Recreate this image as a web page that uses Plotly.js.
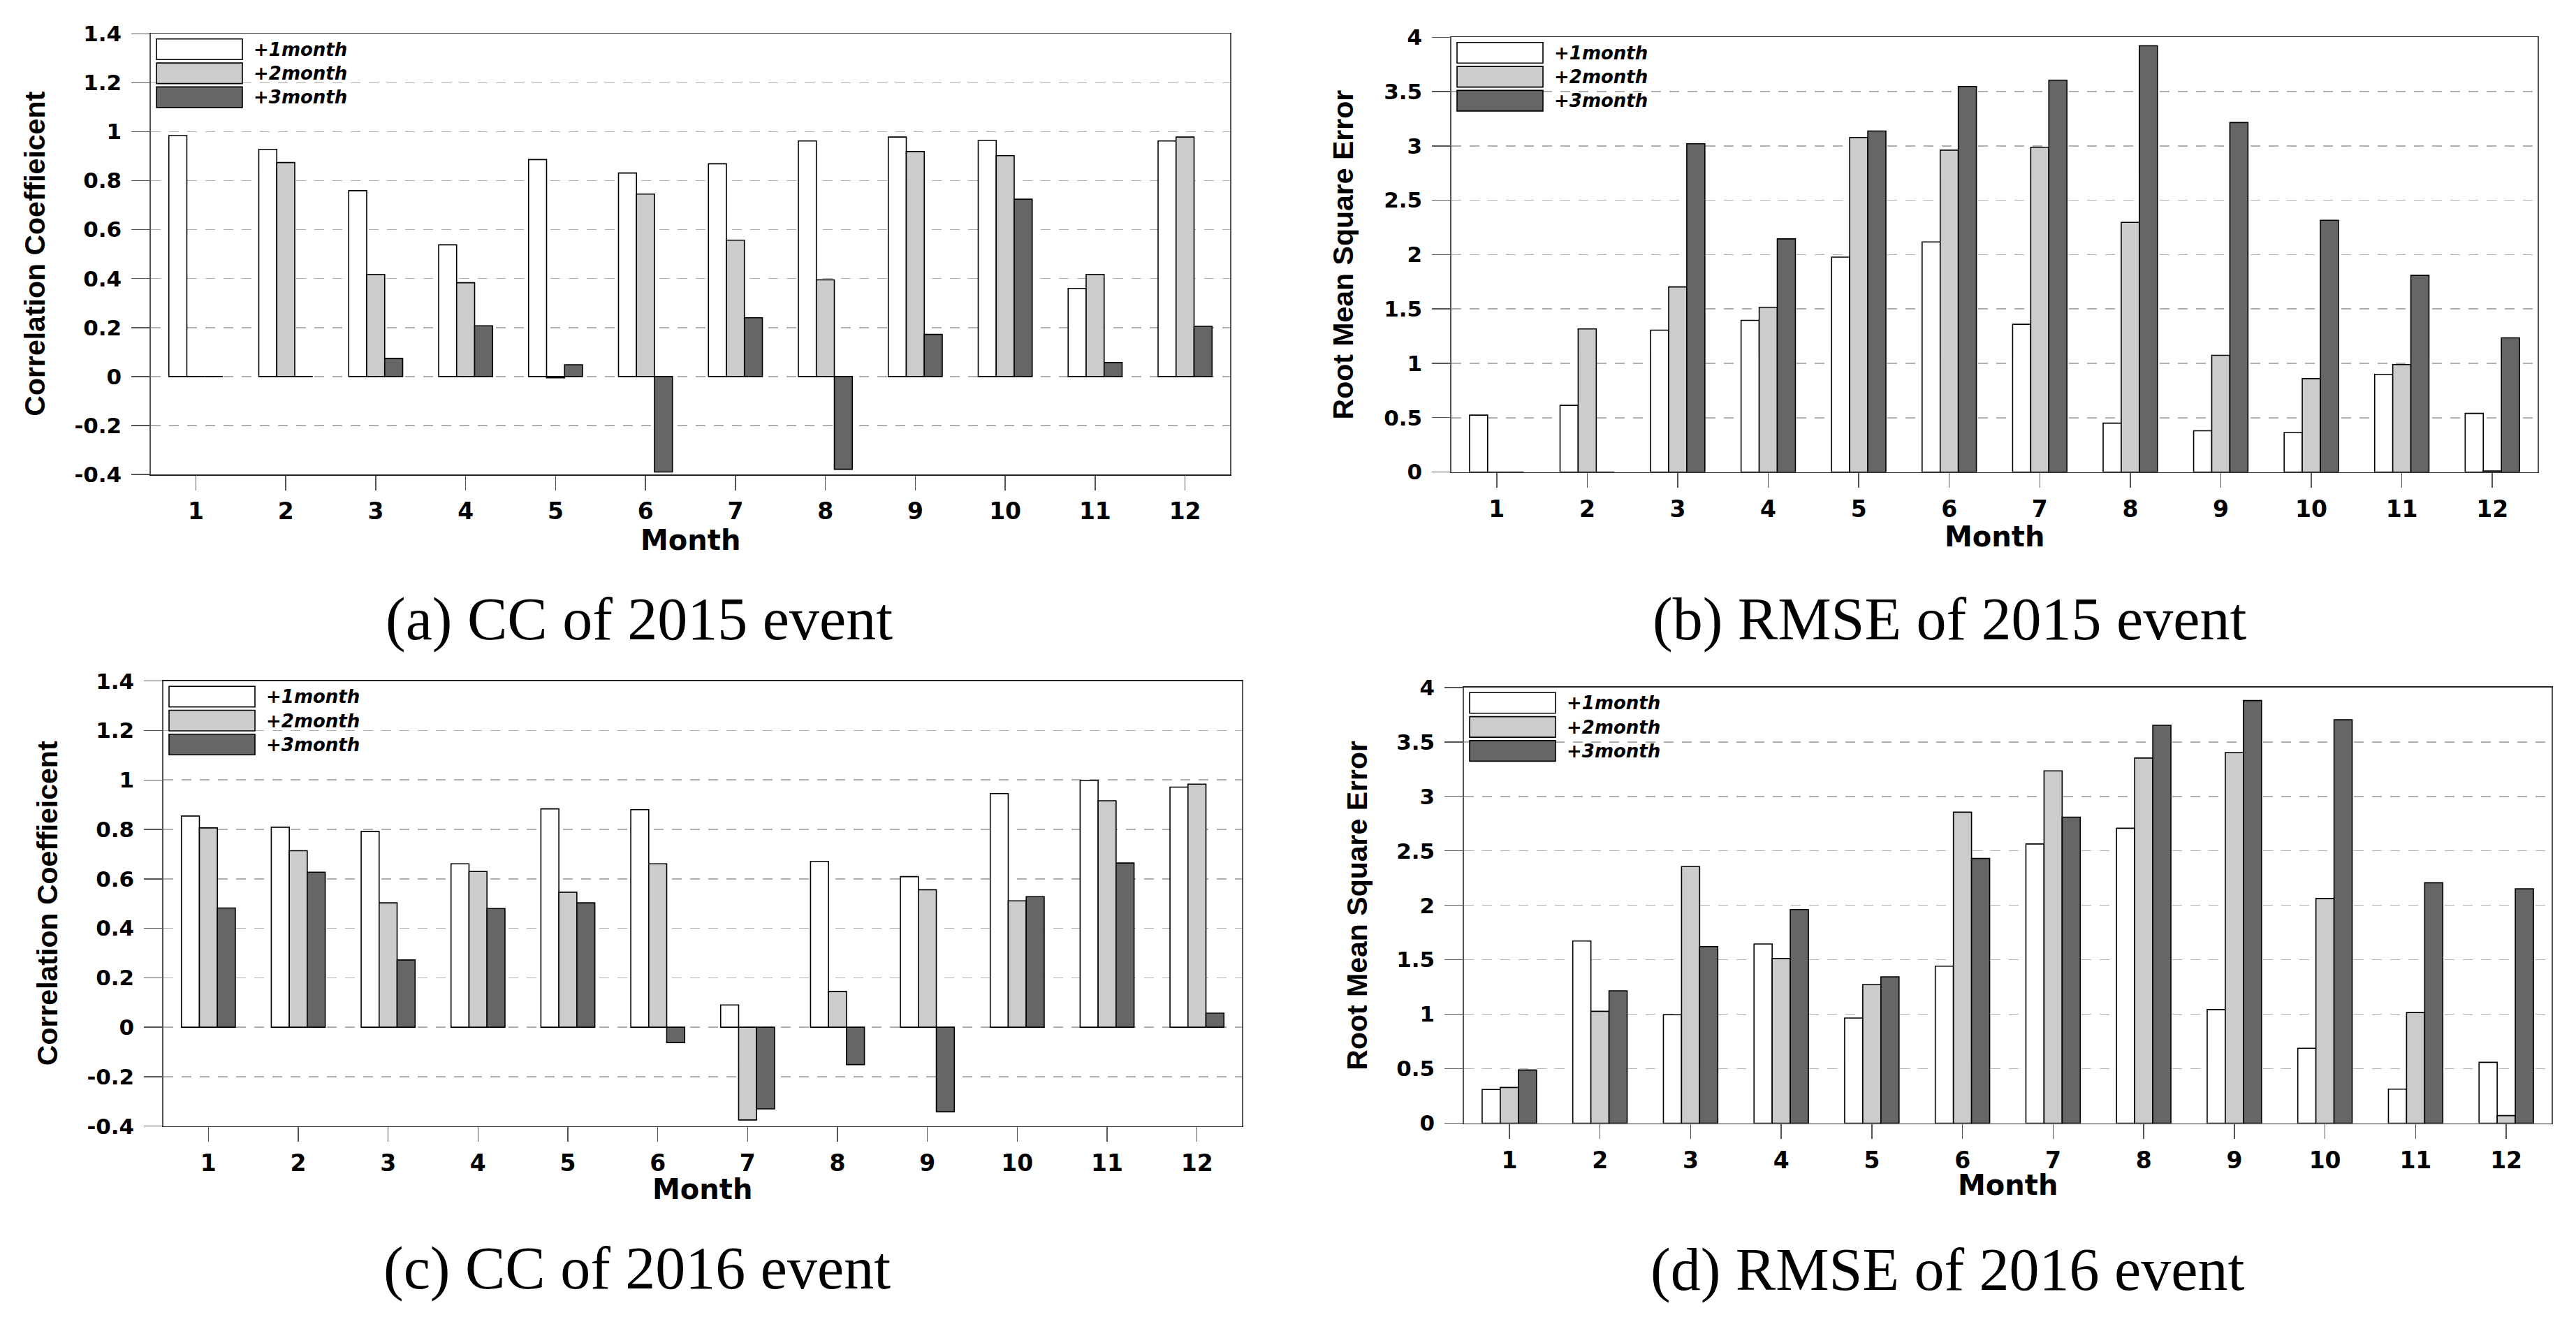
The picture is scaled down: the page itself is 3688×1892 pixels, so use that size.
<!DOCTYPE html>
<html>
<head>
<meta charset="utf-8">
<script src="https://cdn.plot.ly/plotly-3.0.1.min.js"></script>
<style>html,body{margin:0;padding:0;background:#ffffff;}</style>
</head>
<body>
<div id="chart" style="width:3688px;height:1892px;"></div>
<script>
// ---------------- DATA ----------------
const months = [1, 2, 3, 4, 5, 6, 7, 8, 9, 10, 11, 12];
const monthLabels = ['1', '2', '3', '4', '5', '6', '7', '8', '9', '10', '11', '12'];
const seriesNames = ['+1month', '+2month', '+3month'];

// (a) CC of 2015 event
const cc2015_m1 = [0.984, 0.928, 0.759, 0.538, 0.886, 0.831, 0.869, 0.962, 0.978, 0.964, 0.360, 0.962];
const cc2015_m2 = [0.000, 0.874, 0.417, 0.383, -0.005, 0.745, 0.557, 0.395, 0.919, 0.902, 0.417, 0.978];
const cc2015_m3 = [0.000, 0.000, 0.074, 0.207, 0.048, -0.390, 0.240, -0.379, 0.172, 0.724, 0.057, 0.205];

// (b) RMSE of 2015 event
const rmse2015_m1 = [0.523, 0.613, 1.305, 1.395, 1.977, 2.117, 1.359, 0.449, 0.379, 0.363, 0.898, 0.539];
const rmse2015_m2 = [0.000, 1.316, 1.703, 1.516, 3.078, 2.961, 2.988, 2.297, 1.074, 0.859, 0.988, 0.010];
const rmse2015_m3 = [0.000, 0.000, 3.020, 2.145, 3.137, 3.547, 3.605, 3.922, 3.215, 2.316, 1.809, 1.234];

// (c) CC of 2016 event
const cc2016_m1 = [0.854, 0.809, 0.792, 0.661, 0.883, 0.880, 0.090, 0.671, 0.609, 0.945, 0.998, 0.971];
const cc2016_m2 = [0.806, 0.714, 0.503, 0.630, 0.546, 0.661, -0.375, 0.145, 0.556, 0.511, 0.916, 0.983];
const cc2016_m3 = [0.482, 0.627, 0.272, 0.480, 0.503, -0.062, -0.330, -0.151, -0.342, 0.528, 0.664, 0.057];

// (d) RMSE of 2016 event
const rmse2016_m1 = [0.309, 1.672, 0.996, 1.645, 0.965, 1.441, 2.563, 2.707, 1.043, 0.688, 0.313, 0.559];
const rmse2016_m2 = [0.328, 1.027, 2.355, 1.512, 1.273, 2.855, 3.234, 3.352, 3.402, 2.063, 1.016, 0.070];
const rmse2016_m3 = [0.488, 1.215, 1.621, 1.961, 1.344, 2.430, 2.809, 3.652, 3.879, 3.703, 2.207, 2.152];

// tick labels
const ccTickVals = [-0.4, -0.2, 0, 0.2, 0.4, 0.6, 0.8, 1, 1.2, 1.4];
const ccTickText = ['-0.4', '-0.2', '0', '0.2', '0.4', '0.6', '0.8', '1', '1.2', '1.4'];
const rmseTickVals = [0, 0.5, 1, 1.5, 2, 2.5, 3, 3.5, 4];
const rmseTickText = ['0', '0.5', '1', '1.5', '2', '2.5', '3', '3.5', '4'];

// texts
const ccTitle = 'Correlation Coeffieicent';
const rmseTitle = 'Root Mean Square Error';
const xTitle = 'Month';
const captions = ['(a) CC of 2015 event', '(b) RMSE of 2015 event', '(c) CC of 2016 event', '(d) RMSE of 2016 event'];

// ---------------- STYLE / LAYOUT ----------------
const W = 3688, H = 1892;
const fillColors = ['#ffffff', '#cccccc', '#666666'];
const PX = p => p / W;
const PY = p => 1 - p / H;

const panels = [
  {id: '',  left: 216,  right: 1761, top: 48.3,  bottom: 679,    range: [-0.4, 1.4], tv: ccTickVals,   tt: ccTickText,   ytitle: ccTitle,   ytx: 50,   xty: 773,  cap: captions[0], capx: 915,  capy: 886,  data: [cc2015_m1, cc2015_m2, cc2015_m3]},
  {id: '2', left: 2078, right: 3633, top: 53.3,  bottom: 675.5,  range: [0, 4],      tv: rmseTickVals, tt: rmseTickText, ytitle: rmseTitle, ytx: 1923, xty: 768,  cap: captions[1], capx: 2791, capy: 886,  data: [rmse2015_m1, rmse2015_m2, rmse2015_m3]},
  {id: '3', left: 234,  right: 1778, top: 974.7, bottom: 1611.7, range: [-0.4, 1.4], tv: ccTickVals,   tt: ccTickText,   ytitle: ccTitle,   ytx: 68,   xty: 1702, cap: captions[2], capx: 912,  capy: 1815, data: [cc2016_m1, cc2016_m2, cc2016_m3]},
  {id: '4', left: 2096, right: 3653, top: 983.8, bottom: 1607.5, range: [0, 4],      tv: rmseTickVals, tt: rmseTickText, ytitle: rmseTitle, ytx: 1943, xty: 1696, cap: captions[3], capx: 2788, capy: 1817, data: [rmse2016_m1, rmse2016_m2, rmse2016_m3]}
];

const tickFont = {family: 'DejaVu Sans', size: 31, color: '#000000', weight: 'bold'};
const xTickFont = {family: 'DejaVu Sans', size: 33, color: '#000000', weight: 'bold'};

const traces = [];
const shapes = [];
const annotations = [];
const layout = {
  width: W, height: H, autosize: false,
  margin: {l: 0, r: 0, t: 0, b: 0, pad: 0},
  paper_bgcolor: '#ffffff', plot_bgcolor: '#ffffff',
  barmode: 'group', bargap: 0.4, bargroupgap: 0,
  showlegend: false,
  font: {family: 'DejaVu Sans', color: '#000000'}
};

panels.forEach((p, pi) => {
  const xa = 'x' + p.id, ya = 'y' + p.id;
  p.data.forEach((vals, si) => {
    traces.push({
      type: 'bar', x: months, y: vals, name: seriesNames[si],
      xaxis: xa, yaxis: ya,
      marker: {color: fillColors[si], line: {color: '#000000', width: 1.6}},
      hoverinfo: 'skip'
    });
  });
  layout['xaxis' + p.id] = {
    domain: [PX(p.left), PX(p.right)], anchor: ya,
    range: [0.5, 12.5], tickmode: 'array', tickvals: months, ticktext: monthLabels,
    ticks: 'outside', ticklen: 21, tickwidth: 1.5, tickcolor: '#555555',
    showline: true, linecolor: '#222222', linewidth: 1.6, mirror: true,
    showgrid: false, zeroline: false, fixedrange: true,
    tickfont: xTickFont, ticklabelstandoff: 2
  };
  layout['yaxis' + p.id] = {
    domain: [PY(p.bottom), PY(p.top)], anchor: xa,
    range: p.range, tickmode: 'array', tickvals: p.tv, ticktext: p.tt,
    ticks: 'outside', ticklen: 26, tickwidth: 1.5, tickcolor: '#555555',
    showline: true, linecolor: '#555555', linewidth: 1.6, mirror: true,
    showgrid: true, gridcolor: '#b0b0b0', gridwidth: 1.6, griddash: '14px,12px',
    zeroline: false, fixedrange: true,
    tickfont: tickFont, ticklabelstandoff: 8
  };
  // legend (drawn manually: wide swatches)
  seriesNames.forEach((nm, si) => {
    const t = p.top + 7.5 + si * 34.3;
    shapes.push({type: 'rect', xref: 'paper', yref: 'paper',
      x0: PX(p.left + 8), x1: PX(p.left + 131), y0: PY(t), y1: PY(t + 29.5),
      fillcolor: fillColors[si], line: {color: '#000000', width: 1.6}, layer: 'above'});
    annotations.push({xref: 'paper', yref: 'paper', x: PX(p.left + 145), y: PY(t + 15),
      xanchor: 'left', yanchor: 'middle', showarrow: false, text: nm,
      font: {family: 'DejaVu Sans', size: 26, color: '#000000', weight: 'bold', style: 'italic'}});
  });
  // y-axis title
  annotations.push({xref: 'paper', yref: 'paper', x: PX(p.ytx), y: PY((p.top + p.bottom) / 2),
    xanchor: 'center', yanchor: 'middle', showarrow: false, textangle: -90, text: p.ytitle,
    font: {family: 'Liberation Sans', size: 41, color: '#000000', weight: 'bold'}});
  // x-axis title
  annotations.push({xref: 'paper', yref: 'paper', x: PX((p.left + p.right) / 2), y: PY(p.xty),
    xanchor: 'center', yanchor: 'middle', showarrow: false, text: xTitle,
    font: {family: 'DejaVu Sans', size: 40, color: '#000000', weight: 'bold'}});
  // caption
  annotations.push({xref: 'paper', yref: 'paper', x: PX(p.capx), y: PY(p.capy),
    xanchor: 'center', yanchor: 'middle', showarrow: false, text: p.cap,
    font: {family: 'Liberation Serif', size: 86, color: '#000000'}});
});

layout.shapes = shapes;
layout.annotations = annotations;

Plotly.newPlot('chart', traces, layout, {displayModeBar: false, staticPlot: true});
</script>
</body>
</html>
